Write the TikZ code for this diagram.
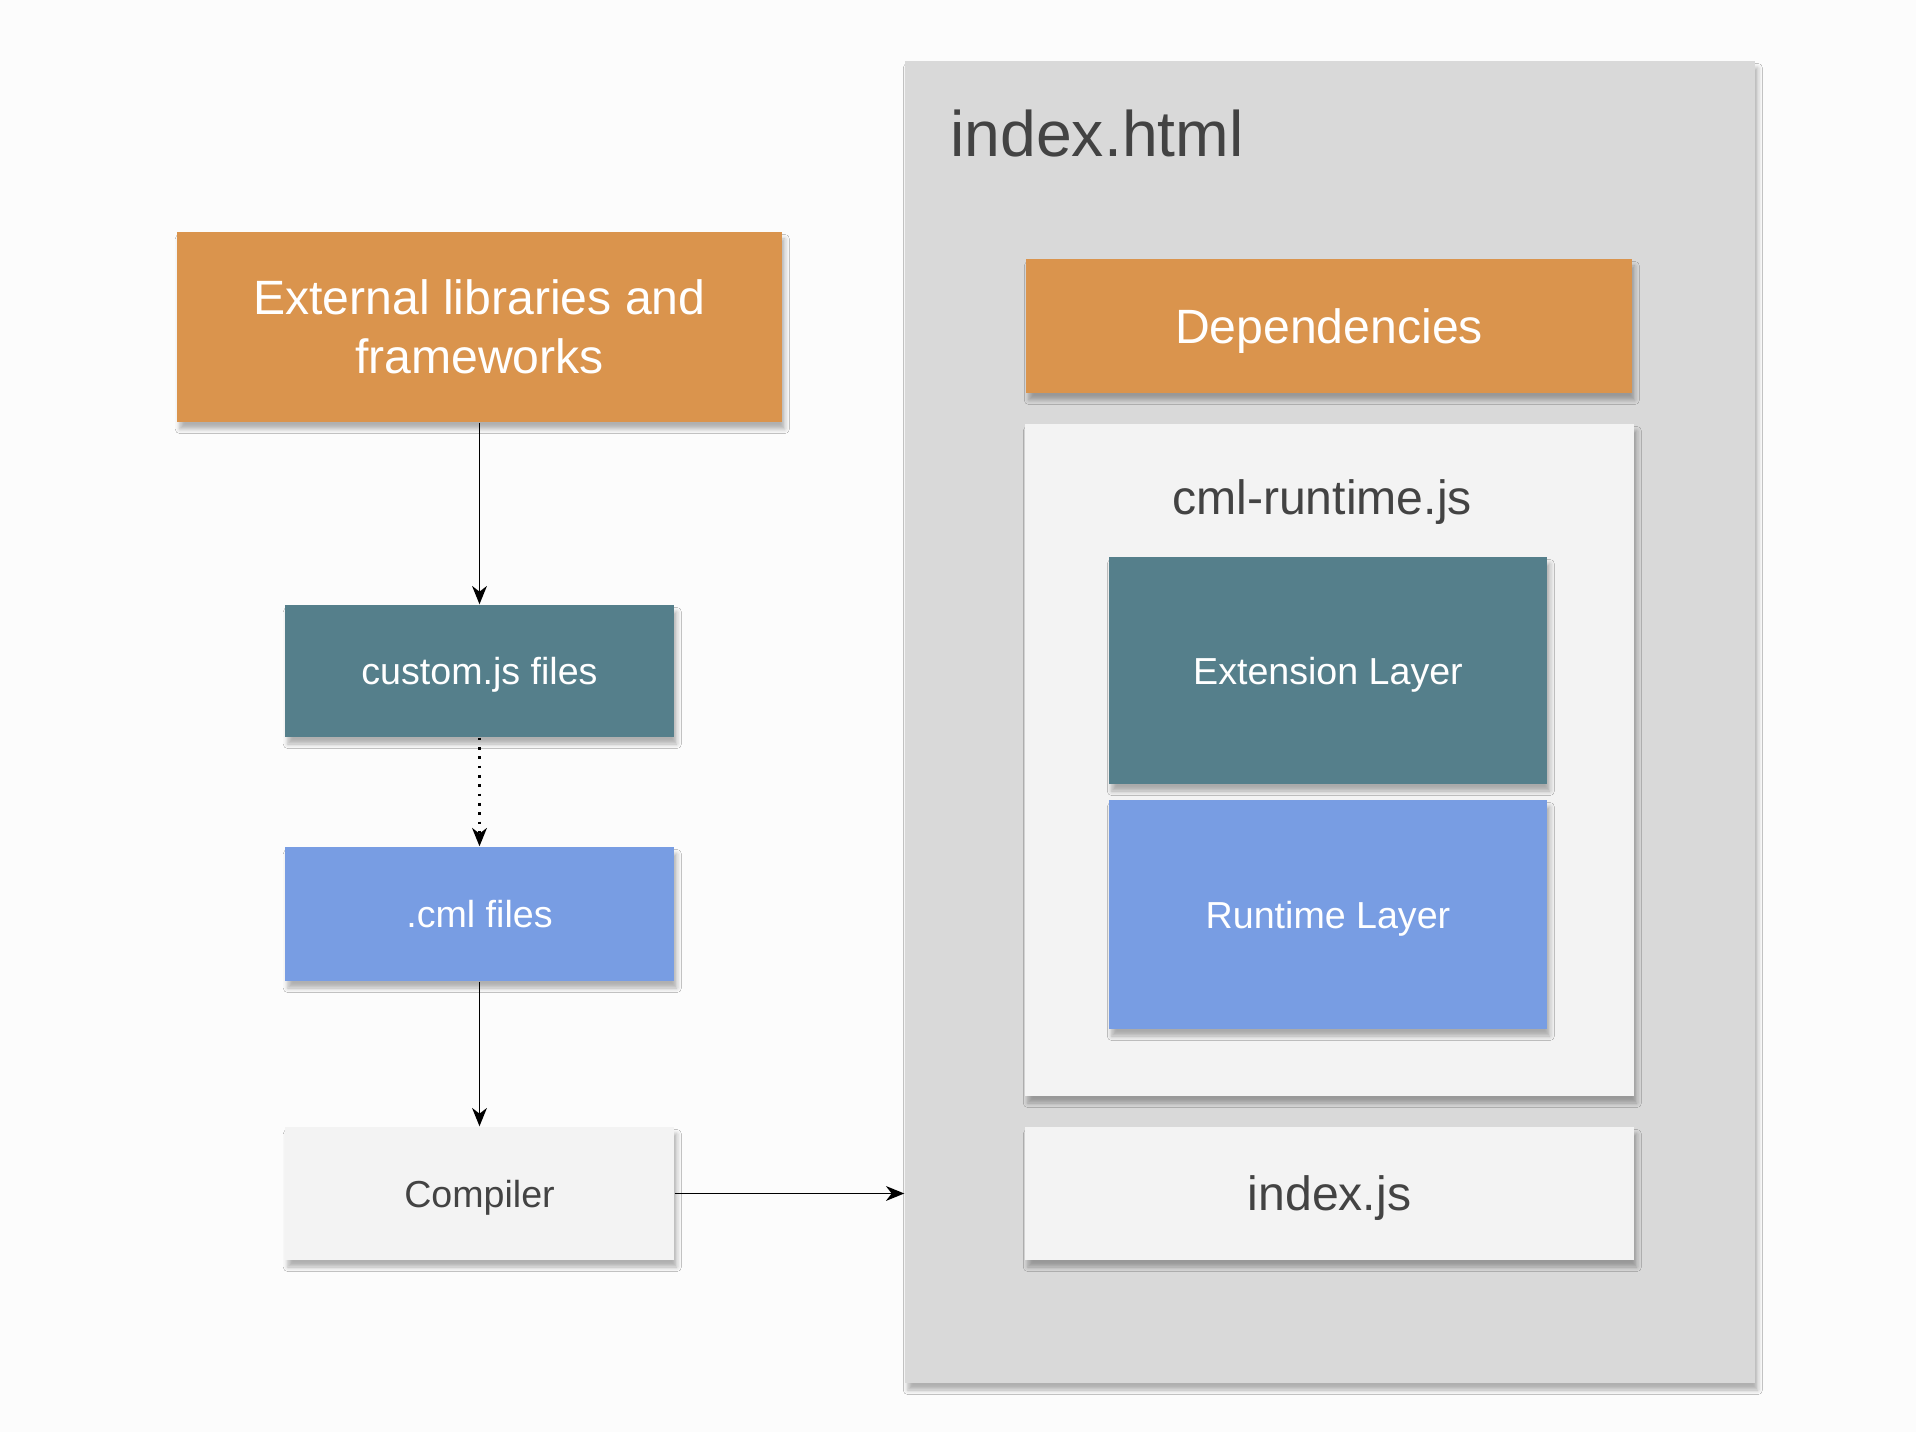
\documentclass[tikz,border=0pt]{standalone}
\usepackage{fontspec}
\setmainfont{Liberation Sans}
\usetikzlibrary{arrows.meta,shadows.blur}
\definecolor{pageBg}{HTML}{FCFCFC}
\definecolor{htmlGray}{HTML}{D9D9D9}
\definecolor{paleGray}{HTML}{F3F3F3}
\definecolor{depOrange}{HTML}{DA944D}
\definecolor{extTeal}{HTML}{557F8B}
\definecolor{rtBlue}{HTML}{789DE3}
\definecolor{inkGray}{HTML}{434343}
\tikzset{
  box/.style={rectangle,inner sep=0pt,align=center,
    blur shadow={shadow xshift=0.8pt,shadow yshift=-2pt,shadow blur radius=1.3pt,shadow opacity=30}},
  bigtext/.style={font=\fontsize{13.7}{16.8}\selectfont,text height=9.8pt,text depth=0pt},
  smalltext/.style={font=\fontsize{10.7}{12.8}\selectfont,text height=7.7pt,text depth=0pt},
  conn/.style={line width=0.55pt,-{Stealth[length=5.2pt,width=4.2pt,inset=1.6pt]}},
  dotconn/.style={conn,line width=0.75pt,dash pattern=on 0.75pt off 1.9pt}
}
\begin{document}
\begin{tikzpicture}
            \useasboundingbox (0,0) rectangle (19.16,14.32);
            \fill[pageBg] (0,0) rectangle (19.16,14.32);

            \node[box,fill=htmlGray,minimum width=8.5cm,minimum height=13.22cm] (html) at (13.30,7.10) {};
            \node[anchor=base west,text=inkGray,font=\fontsize{18.3}{22}\selectfont] (htmltitle) at (9.38,12.75) {index.html};

            \node[box,fill=depOrange,text=white,bigtext,minimum width=6.06cm,minimum height=1.34cm] (deps) at (13.29,11.06) {Dependencies};
            \node[box,fill=paleGray,minimum width=6.09cm,minimum height=6.72cm] (runtime) at (13.295,6.72) {};
            \node[anchor=base,text=inkGray,font=\fontsize{13.7}{16.8}\selectfont] (runtimetitle) at (13.22,9.17) {cml-runtime.js};
            \node[box,fill=extTeal,text=white,smalltext,minimum width=4.38cm,minimum height=2.27cm] (extlayer) at (13.28,7.615) {Extension Layer};
            \node[box,fill=rtBlue,text=white,smalltext,minimum width=4.38cm,minimum height=2.29cm] (rtlayer) at (13.28,5.175) {Runtime Layer};
            \node[box,fill=paleGray,text=inkGray,bigtext,minimum width=6.09cm,minimum height=1.33cm] (indexjs) at (13.295,2.385) {index.js};

            \node[box,fill=depOrange,text=white,font=\fontsize{13.7}{16.8}\selectfont,minimum width=6.05cm,minimum height=1.90cm] (ext) at (4.795,11.05) {External libraries and\\frameworks};
            \node[box,fill=extTeal,text=white,smalltext,minimum width=3.89cm,minimum height=1.32cm] (custom) at (4.795,7.61) {custom.js files};
            \node[box,fill=rtBlue,text=white,smalltext,minimum width=3.89cm,minimum height=1.34cm] (cml) at (4.795,5.18) {.cml files};
            \node[box,fill=paleGray,text=inkGray,smalltext,minimum width=3.89cm,minimum height=1.33cm] (compiler) at (4.795,2.385) {Compiler};

            \draw[conn] (ext) -- (custom);
            \draw[dotconn] (custom) -- (cml);
            \draw[conn] (cml) -- (compiler);
            \draw[conn] (compiler.east) -- (compiler.east -| html.west);
        \end{tikzpicture}
\end{document}
